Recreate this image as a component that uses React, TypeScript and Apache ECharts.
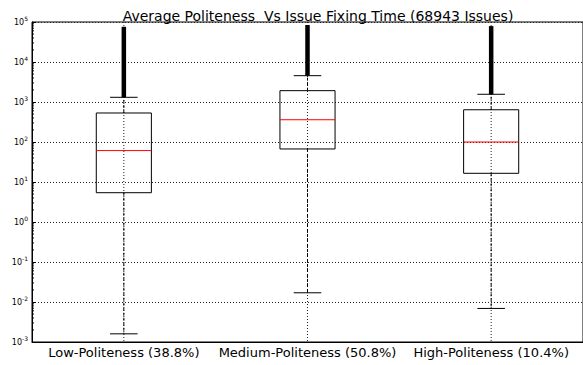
import React, { useEffect, useRef } from "react";
import * as echarts from "echarts";

const categories = [
  "Low-Politeness (38.8%)",
  "Medium-Politeness (50.8%)",
  "High-Politeness (10.4%)",
];
const whiskerLow = [0.0016, 0.017, 0.0069];
const q1 = [5.4, 67, 16.5];
const median = [61, 360, 100];
const q3 = [531, 1920, 640];
const whiskerHigh = [1310, 4550, 1560];
const outlierMax = [76000, 84000, 79000];
const yMin = 0.001;
const yMax = 100000;
const minorMultipliers = [2, 3, 4, 5, 6, 7, 8, 9];
const decadeExponents = [-3, -2, -1, 0, 1, 2, 3, 4];

const FONT = "DejaVu Sans";

export default function App() {
  const ref = useRef<HTMLDivElement>(null);
  useEffect(() => {
    document.body.style.margin = "0";
    if (!ref.current) return;
    const chart = echarts.init(ref.current, null, { renderer: "svg" });
    const boxData = categories.map((_, i) => [
      i,
      whiskerLow[i],
      q1[i],
      median[i],
      q3[i],
      whiskerHigh[i],
      outlierMax[i],
    ]);
    const minorVals: number[] = [];
    decadeExponents.forEach((e) =>
      minorMultipliers.forEach((m) => minorVals.push(m * Math.pow(10, e)))
    );

    chart.setOption({
      animation: false,
      backgroundColor: "#fff",
      textStyle: { fontFamily: FONT },
      title: {
        text: "Average Politeness  Vs Issue Fixing Time (68943 Issues)",
        left: 313,
        textAlign: "center",
        top: 4,
        textStyle: { fontSize: 14, fontWeight: "normal", fontStyle: "normal", color: "#000", fontFamily: FONT },
      },
      grid: {
        left: 32,
        top: 22,
        width: 558,
        height: 320,
        show: true,
        borderColor: "#000",
        borderWidth: 1,
        backgroundColor: "transparent",
      },
      xAxis: {
        type: "category",
        data: categories,
        boundaryGap: true,
        axisLine: { show: true, lineStyle: { color: "#000", width: 1 } },
        axisTick: { show: false },
        axisLabel: { color: "#000", fontSize: 13, margin: 4, fontFamily: FONT, interval: 0 },
        splitLine: { show: false },
      },
      yAxis: {
        type: "log",
        logBase: 10,
        min: yMin,
        max: yMax,
        axisLine: { show: true, lineStyle: { color: "#000", width: 1 } },
        axisTick: { show: true, inside: true, length: 4, lineStyle: { color: "#000" } },
        axisLabel: {
          margin: 4,
          formatter: (v: number) => {
            const e = Math.round(Math.log10(v));
            return `{b|10}{s|${e}}`;
          },
          rich: {
            b: { fontSize: 8, color: "#000", fontFamily: FONT },
            s: { fontSize: 6, color: "#000", fontFamily: FONT, padding: [0, 0, 7, 0] },
          },
        },
        splitLine: {
          show: true,
          lineStyle: { color: "#222", width: 1, type: [1, 2] },
        },
      },
      series: [
        {
          type: "custom",
          data: minorVals.map((v) => [0, v]),
          encode: { x: 0, y: 1 },
          silent: true,
          z: 3,
          renderItem: (params: any, api: any) => {
            const v = api.value(1);
            const y = api.coord([0, v])[1];
            const x0 = params.coordSys.x;
            return {
              type: "line",
              shape: { x1: x0, y1: y, x2: x0 + 2, y2: y },
              style: { stroke: "#000", lineWidth: 1 },
            };
          },
        },
        {
          type: "custom",
          data: boxData,
          encode: { x: 0, y: [1, 2, 3, 4, 5, 6] },
          silent: true,
          z: 4,
          renderItem: (params: any, api: any) => {
            const idx = api.value(0);
            const band = api.coord([1, 1])[0] - api.coord([0, 1])[0];
            const cx = api.coord([idx, 1])[0];
            const Y = (v: number) => api.coord([idx, v])[1];
            const yl = Y(api.value(1));
            const yq1 = Y(api.value(2));
            const ym = Y(api.value(3));
            const yq3 = Y(api.value(4));
            const yh = Y(api.value(5));
            const yo = Y(api.value(6));
            const bw = band * 0.3;
            const cw = band * 0.15;
            const yTop = Y(yMax);
            const yBot = Y(yMin);
            return {
              type: "group",
              children: [
                {
                  type: "line",
                  shape: { x1: cx, y1: yTop, x2: cx, y2: yBot },
                  style: { stroke: "#222", lineWidth: 1, lineDash: [1, 2] },
                },
                {
                  type: "line",
                  shape: { x1: cx, y1: yq1, x2: cx, y2: yl },
                  style: { stroke: "#000", lineWidth: 1, lineDash: [3, 2] },
                },
                {
                  type: "line",
                  shape: { x1: cx, y1: yq3, x2: cx, y2: yh },
                  style: { stroke: "#000", lineWidth: 1, lineDash: [3, 2] },
                },
                {
                  type: "rect",
                  shape: { x: cx - 2.25, y: yo, width: 4.5, height: yh - yo },
                  style: { fill: "#000" },
                },
                {
                  type: "line",
                  shape: { x1: cx - cw / 2, y1: yl, x2: cx + cw / 2, y2: yl },
                  style: { stroke: "#000", lineWidth: 1 },
                },
                {
                  type: "line",
                  shape: { x1: cx - cw / 2, y1: yh, x2: cx + cw / 2, y2: yh },
                  style: { stroke: "#000", lineWidth: 1 },
                },
                {
                  type: "rect",
                  shape: { x: cx - bw / 2, y: yq3, width: bw, height: yq1 - yq3 },
                  style: { fill: "none", stroke: "#000", lineWidth: 1 },
                },
                {
                  type: "line",
                  shape: { x1: cx - bw / 2, y1: ym, x2: cx + bw / 2, y2: ym },
                  style: { stroke: "#ff0000", lineWidth: 1 },
                },
              ],
            };
          },
        },
      ],
    });
    return () => chart.dispose();
  }, []);
  return <div ref={ref} style={{ width: 583, height: 365 }} />;
}
